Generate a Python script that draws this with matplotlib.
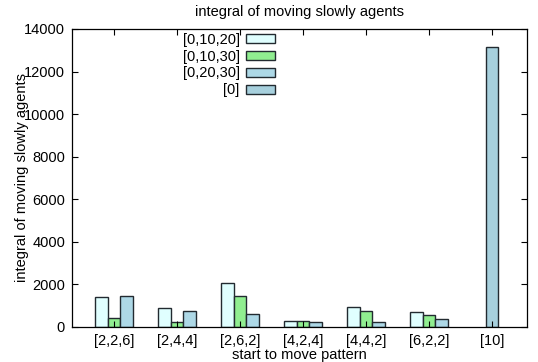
import numpy as np
import matplotlib
matplotlib.use('Agg')
import matplotlib.pyplot as plt

plt.rcParams['font.family'] = ['Liberation Sans', 'DejaVu Sans']
plt.rcParams['font.size'] = 10.5

patterns = ['[2,2,6]', '[2,4,4]', '[2,6,2]', '[4,2,4]', '[4,4,2]', '[6,2,2]', '[10]']
series_names = ['[0,10,20]', '[0,10,30]', '[0,20,30]', '[0]']
colors = ['#e0ffff', '#90ee90', '#add8e6', '#a7d0dd']

slow_0_10_20 = [1400, 880, 2050, 270, 940, 690, np.nan]
slow_0_10_30 = [420, 235, 1450, 270, 765, 560, np.nan]
slow_0_20_30 = [1450, 735, 595, 250, 250, 390, np.nan]
slow_0 = [np.nan, np.nan, np.nan, np.nan, np.nan, np.nan, 13150]

fig = plt.figure(figsize=(5.38, 3.62), dpi=100)
ax = fig.add_axes([0.1338, 0.0967, 0.8458, 0.8232])

x = np.arange(len(patterns))
w = 0.2
edge = dict(edgecolor='#222a30', linewidth=1.0)
ax.bar(x - w, slow_0_10_20, w, color=colors[0], label=series_names[0], **edge)
ax.bar(x, slow_0_10_30, w, color=colors[1], label=series_names[1], **edge)
ax.bar(x + w, slow_0_20_30, w, color=colors[2], label=series_names[2], **edge)
ax.bar(x, slow_0, w, color=colors[3], label=series_names[3], **edge)

ax.set_xlim(-0.667, 6.556)
ax.set_ylim(0, 14000)
ax.set_yticks(range(0, 14001, 2000))
ax.set_xticks(x)
ax.set_xticklabels(patterns)
ax.tick_params(direction='in', length=4, width=0.8, top=True, right=True,
               labelsize=10.5, pad=5)
for s in ax.spines.values():
    s.set_linewidth(0.9)

ax.set_title('integral of moving slowly agents', fontsize=10.5, pad=9)
ax.set_xlabel('start to move pattern', labelpad=0)
ax.set_ylabel('integral of moving slowly agents', labelpad=-4)

ax.legend(loc='upper right', bbox_to_anchor=(0.455, 1.0), frameon=False,
          markerfirst=False, borderpad=0, borderaxespad=0.25,
          handlelength=2.0, handleheight=0.55, handletextpad=0.45,
          labelspacing=0.2, fontsize=10.5)

fig.savefig('out.png', dpi=100)
